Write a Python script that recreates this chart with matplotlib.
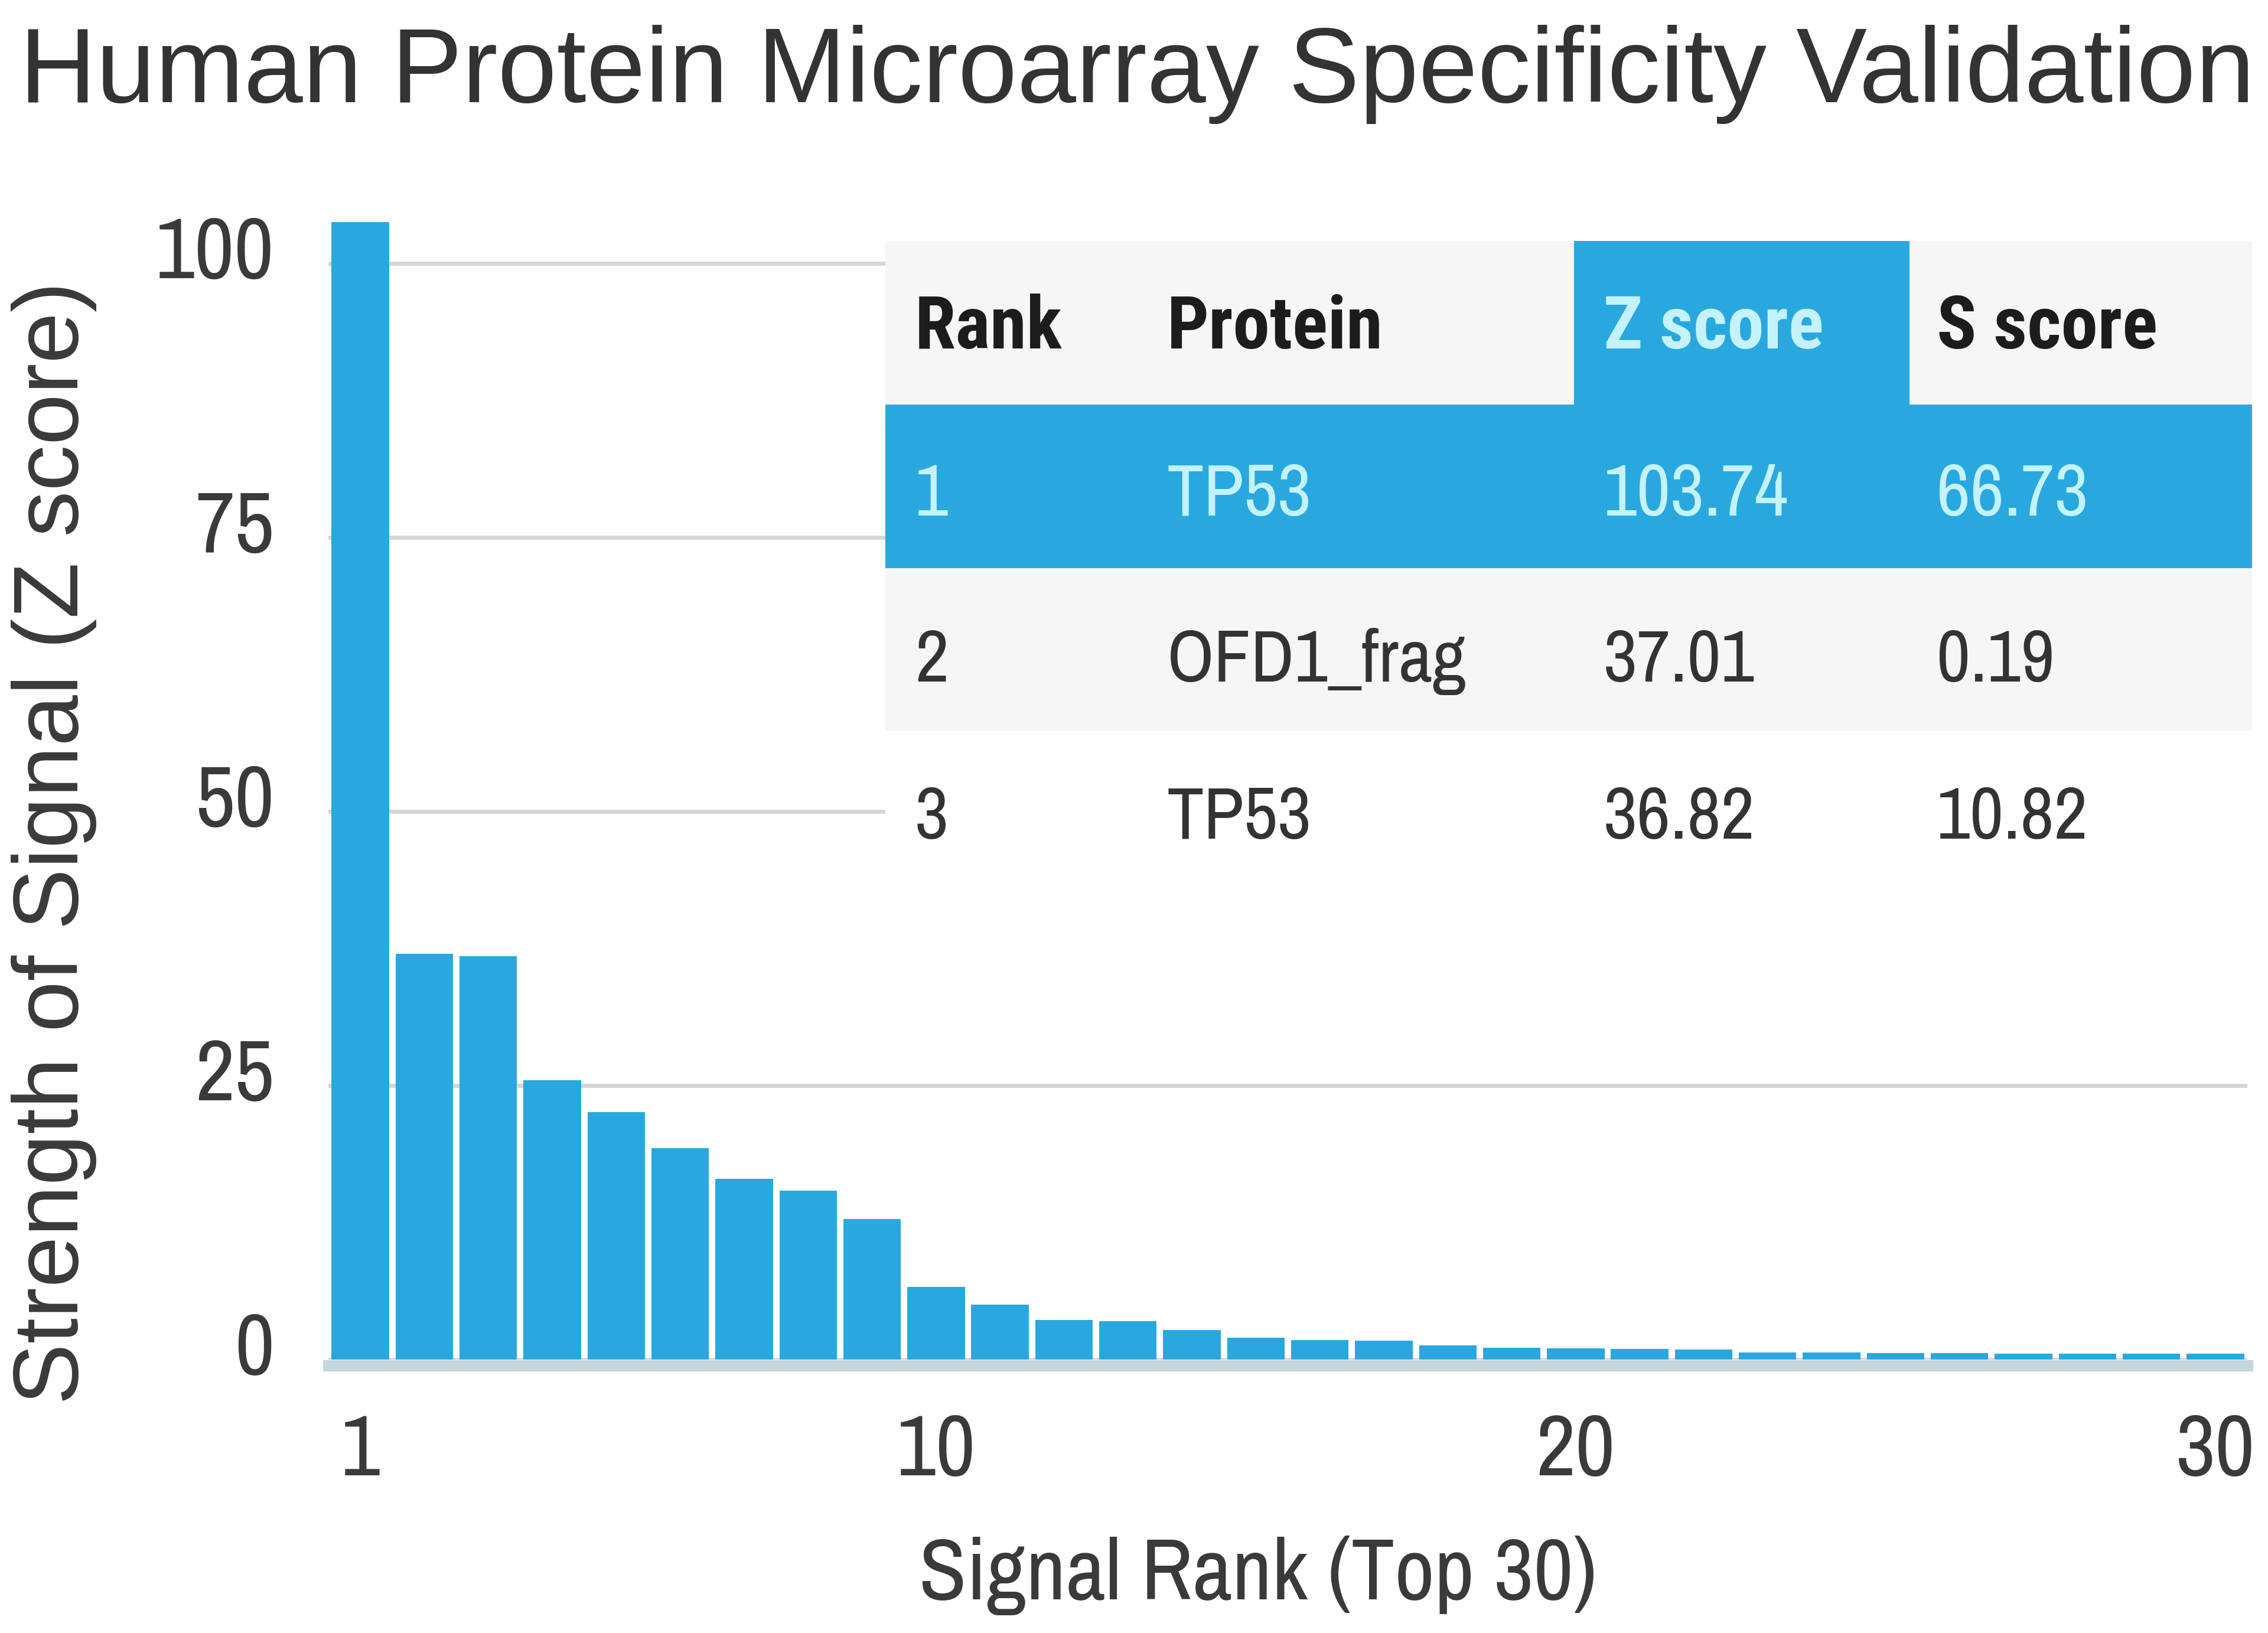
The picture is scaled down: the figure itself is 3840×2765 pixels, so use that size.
import matplotlib
matplotlib.use('Agg')
import matplotlib.pyplot as plt
from matplotlib import font_manager as fm
from matplotlib.patches import Rectangle
import matplotlib.transforms as mtransforms

# ---------------- data ----------------
ranks = list(range(1, 31))
z_scores = [103.74, 37.01, 36.82, 25.5, 22.6, 19.3, 16.5, 15.4, 12.8, 6.6,
            5.0, 3.6, 3.5, 2.7, 2.0, 1.8, 1.7, 1.3, 1.1, 1.0,
            0.95, 0.9, 0.65, 0.62, 0.6, 0.58, 0.56, 0.55, 0.54, 0.52]
x_ticks = [1, 10, 20, 30]
y_ticks = [0, 25, 50, 75, 100]

title_text = 'Human Protein Microarray Specificity Validation'
x_label = 'Signal Rank (Top 30)'
y_label = 'Strength of Signal (Z score)'

table_header = ['Rank', 'Protein', 'Z score', 'S score']
table_rank = ['1', '2', '3']
table_protein = ['TP53', 'OFD1_frag', 'TP53']
table_z = ['103.74', '37.01', '36.82']
table_s = ['66.73', '0.19', '10.82']

# ---------------- style ----------------
BLUE = '#29a8e0'
GRID = '#d6d6d6'
TXT = '#3a3a3a'
LIGHT = '#f6f6f6'
CYAN_TXT = '#c4f3ff'

weights = {}
for f in fm.fontManager.ttflist:
    if f.style == 'normal':
        weights.setdefault(f.name, set()).add(int(f.weight) if str(f.weight).isdigit() else 400)
cands = ['Liberation Sans Narrow', 'Arial Narrow', 'Archivo Narrow',
         'Roboto Condensed', 'PT Sans Narrow', 'IBM Plex Sans Condensed']
NARROW = 'Liberation Sans'
for cand in cands:
    if cand in weights:
        NARROW = cand
        break
NARROW_B = NARROW
for cand in cands:
    if cand in weights and any(w >= 700 for w in weights[cand]):
        NARROW_B = cand
        break
REG = 'Liberation Sans' if 'Liberation Sans' in weights else 'DejaVu Sans'

W, H = 3840, 2765
fig = plt.figure(figsize=(W / 100, H / 100), dpi=100)
fig.patch.set_facecolor('white')

# main axes (pixel layout)
ax_l, ax_r, ax_b, ax_t = 556, 3805, 2302, 353
ax = fig.add_axes([ax_l / W, 1 - ax_b / H, (ax_r - ax_l) / W, (ax_b - ax_t) / H])
ax.bar(ranks, z_scores, width=0.9, color=BLUE, zorder=2, linewidth=0)
ax.set_xlim(0.5, 30.5)
ax.set_ylim(0, 105)
ax.set_xticks(x_ticks)
ax.set_yticks(y_ticks)
ax.yaxis.grid(True, color=GRID, linewidth=5)
ax.set_axisbelow(True)
for s in ['left', 'right', 'top']:
    ax.spines[s].set_visible(False)
ax.spines['bottom'].set_color('#c6d6de')
ax.spines['bottom'].set_linewidth(14)
ax.spines['bottom'].set_position(('outward', 7))
ax.spines['bottom'].set_zorder(1)
ax.tick_params(axis='both', length=0, labelsize=106, labelcolor=TXT)
ax.tick_params(axis='y', pad=66)
ax.tick_params(axis='x', pad=58)
for lab in ax.get_xticklabels() + ax.get_yticklabels():
    lab.set_family(NARROW)
offset = mtransforms.ScaledTranslation(0, 28 / 100, fig.dpi_scale_trans)
for lab in ax.get_yticklabels():
    lab.set_transform(lab.get_transform() + offset)

# title and axis labels
fig.text(33 / W, 1 - 173 / H, title_text, ha='left', va='baseline',
         fontsize=129.5, family=REG, color='#333333')
fig.text(2130 / W, 1 - 2708 / H, x_label, ha='center', va='baseline',
         fontsize=106, family=NARROW, color=TXT)
fig.text(92 / W, 1 - 1427 / H, y_label, ha='center', va='center', rotation=90,
         fontsize=112, family=REG, color=TXT)

# ---------------- table overlay ----------------
tab = fig.add_axes([0, 0, 1, 1])
tab.set_xlim(0, W)
tab.set_ylim(H, 0)
tab.axis('off')
tab.set_zorder(5)
tab.patch.set_alpha(0)

t_l, t_r = 1499, 3813
row_y = [408, 685, 962, 1237, 1518]
zcol_l, zcol_r = 2665, 3233
col_x = [1549, 1976, 2715, 3279]
baselines = [590, 873, 1154, 1420]

tab.add_patch(Rectangle((t_l, row_y[0]), t_r - t_l, row_y[1] - row_y[0], color=LIGHT, lw=0))
tab.add_patch(Rectangle((zcol_l, row_y[0]), zcol_r - zcol_l, row_y[1] - row_y[0], color=BLUE, lw=0))
tab.add_patch(Rectangle((t_l, row_y[1]), t_r - t_l, row_y[2] - row_y[1], color=BLUE, lw=0))
tab.add_patch(Rectangle((t_l, row_y[2]), t_r - t_l, row_y[3] - row_y[2], color=LIGHT, lw=0))
tab.add_patch(Rectangle((t_l, row_y[3]), t_r - t_l, row_y[4] - row_y[3], color='white', lw=0))

TFS = 90
for j, h in enumerate(table_header):
    c = CYAN_TXT if j == 2 else '#1c1c1c'
    tab.text(col_x[j], baselines[0], h, ha='left', va='baseline', fontsize=TFS,
             family=NARROW_B, weight='bold', color=c)
for i in range(3):
    c = CYAN_TXT if i == 0 else '#333333'
    vals = [table_rank[i], table_protein[i], table_z[i], table_s[i]]
    for j, v in enumerate(vals):
        tab.text(col_x[j], baselines[i + 1], v, ha='left', va='baseline', fontsize=TFS,
                 family=NARROW, color=c)

fig.savefig('out.png', dpi=100, facecolor='white')
